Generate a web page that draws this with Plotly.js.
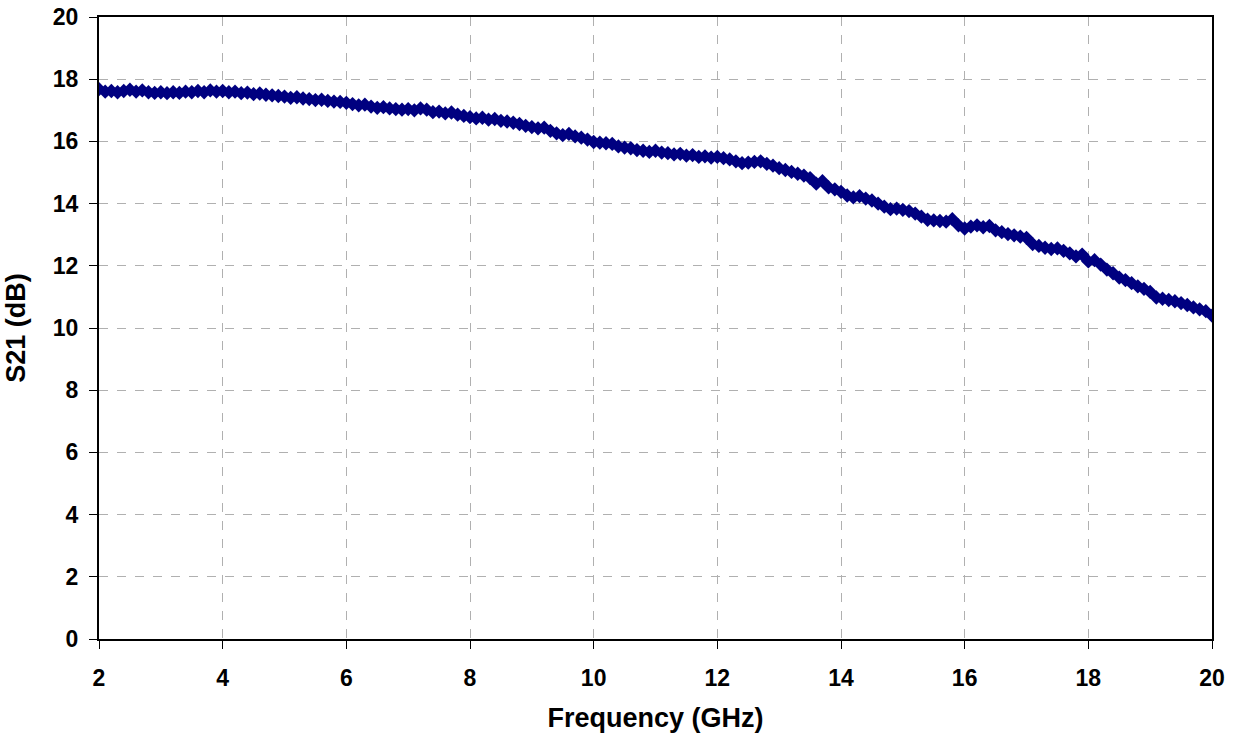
<!DOCTYPE html>
<html>
<head>
<meta charset="utf-8">
<script src="https://cdn.plot.ly/plotly-3.0.1.min.js"></script>
<style>html,body{margin:0;padding:0;background:#fff;}#chart{width:1235px;height:741px;}</style>
</head>
<body>
<div id="chart"></div>
<script>
// Frequency (GHz), 2 to 20 in 0.1 GHz steps
var freqGHz = [
2.0,2.1,2.2,2.3,2.4,2.5,2.6,2.7,2.8,2.9,
3.0,3.1,3.2,3.3,3.4,3.5,3.6,3.7,3.8,3.9,
4.0,4.1,4.2,4.3,4.4,4.5,4.6,4.7,4.8,4.9,
5.0,5.1,5.2,5.3,5.4,5.5,5.6,5.7,5.8,5.9,
6.0,6.1,6.2,6.3,6.4,6.5,6.6,6.7,6.8,6.9,
7.0,7.1,7.2,7.3,7.4,7.5,7.6,7.7,7.8,7.9,
8.0,8.1,8.2,8.3,8.4,8.5,8.6,8.7,8.8,8.9,
9.0,9.1,9.2,9.3,9.4,9.5,9.6,9.7,9.8,9.9,
10.0,10.1,10.2,10.3,10.4,10.5,10.6,10.7,10.8,10.9,
11.0,11.1,11.2,11.3,11.4,11.5,11.6,11.7,11.8,11.9,
12.0,12.1,12.2,12.3,12.4,12.5,12.6,12.7,12.8,12.9,
13.0,13.1,13.2,13.3,13.4,13.5,13.6,13.7,13.8,13.9,
14.0,14.1,14.2,14.3,14.4,14.5,14.6,14.7,14.8,14.9,
15.0,15.1,15.2,15.3,15.4,15.5,15.6,15.7,15.8,15.9,
16.0,16.1,16.2,16.3,16.4,16.5,16.6,16.7,16.8,16.9,
17.0,17.1,17.2,17.3,17.4,17.5,17.6,17.7,17.8,17.9,
18.0,18.1,18.2,18.3,18.4,18.5,18.6,18.7,18.8,18.9,
19.0,19.1,19.2,19.3,19.4,19.5,19.6,19.7,19.8,19.9,
20.0
];
// S21 (dB)
var s21dB = [
17.68,17.60,17.62,17.58,17.62,17.66,17.60,17.64,17.58,17.56,
17.58,17.55,17.58,17.56,17.60,17.58,17.62,17.58,17.64,17.60,
17.62,17.58,17.60,17.55,17.57,17.52,17.54,17.50,17.48,17.46,
17.44,17.40,17.42,17.38,17.36,17.33,17.34,17.30,17.28,17.27,
17.24,17.20,17.16,17.18,17.12,17.08,17.10,17.06,17.04,17.02,
17.04,17.00,17.06,17.02,16.94,16.96,16.90,16.93,16.86,16.82,
16.78,16.74,16.76,16.70,16.72,16.66,16.64,16.60,16.56,16.50,
16.46,16.42,16.44,16.34,16.26,16.20,16.24,16.16,16.12,16.06,
15.98,15.96,15.94,15.92,15.84,15.80,15.78,15.72,15.70,15.66,
15.70,15.64,15.62,15.58,15.60,15.54,15.56,15.50,15.52,15.48,
15.50,15.46,15.42,15.36,15.30,15.32,15.34,15.36,15.28,15.22,
15.14,15.08,15.02,14.96,14.90,14.82,14.64,14.72,14.52,14.46,
14.38,14.26,14.20,14.24,14.16,14.10,14.00,13.90,13.82,13.84,
13.80,13.76,13.68,13.58,13.48,13.46,13.44,13.42,13.50,13.30,
13.20,13.26,13.30,13.24,13.28,13.14,13.08,13.02,12.98,12.94,
12.90,12.70,12.64,12.58,12.54,12.56,12.48,12.40,12.30,12.36,
12.14,12.18,12.04,11.88,11.76,11.62,11.54,11.44,11.34,11.26,
11.16,10.98,10.94,10.90,10.86,10.80,10.74,10.66,10.60,10.54,
10.40
];
var xTicks = [2,4,6,8,10,12,14,16,18,20];
var yTicks = [0,2,4,6,8,10,12,14,16,18,20];

var fam = 'Liberation Sans, Arial, sans-serif';

var trace = {
  x: freqGHz, y: s21dB, type: 'scatter', mode: 'lines+markers',
  line: {color: '#000080', width: 1.5},
  marker: {symbol: 'diamond', size: 11, color: '#000080', line: {width: 0}},
  hoverinfo: 'x+y'
};

var axisCommon = {
  showline: true, linecolor: '#000', linewidth: 2, mirror: true,
  ticks: 'outside', ticklen: 8, tickwidth: 1, tickcolor: '#000',
  showgrid: true, gridcolor: '#b0b0b0', gridwidth: 1, griddash: 'dash',
  zeroline: false, tickfont: {family: fam, size: 23, color: '#000'}
};

var layout = {
  width: 1235, height: 741,
  margin: {l: 99, r: 23, t: 17, b: 102},
  paper_bgcolor: '#fff', plot_bgcolor: '#fff',
  showlegend: false,
  font: {family: fam, color: '#000'},
  xaxis: Object.assign({}, axisCommon, {
    range: [2, 20], tickvals: xTicks, ticktext: xTicks.map(function(t){return '<b>' + t + '</b>';}),
    ticklabelstandoff: 9,
    title: {text: '<b>Frequency (GHz)</b>', font: {family: fam, size: 27, color: '#000'}, standoff: 19}
  }),
  yaxis: Object.assign({}, axisCommon, {
    range: [0, 20], tickvals: yTicks, ticktext: yTicks.map(function(t){return '<b>' + t + '</b>';}),
    ticklabelstandoff: 6,
    title: {text: '<b>S21 (dB)</b>', font: {family: fam, size: 27, color: '#000'}, standoff: 19}
  })
};

Plotly.newPlot('chart', [trace], layout, {displayModeBar: false, staticPlot: true});
</script>
</body>
</html>
